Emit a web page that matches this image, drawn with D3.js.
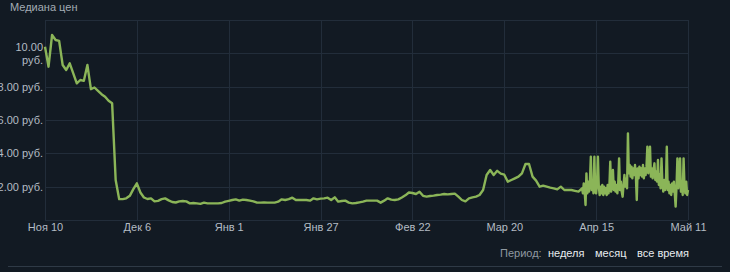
<!DOCTYPE html>
<html>
<head>
<meta charset="utf-8">
<script src="https://cdn.jsdelivr.net/npm/d3@7"></script>
<style>
  html, body { margin: 0; padding: 0; background: #121a23; }
  svg { display: block; font-family: Arial, "Liberation Sans", sans-serif; }
</style>
</head>
<body>
<script>
// daily medians from Nov 10 (one value per day)
var dailyStart = "2022-11-10";
var dailyPrices = [
  10.4, 9.2, 11.1, 10.8, 10.75, 9.3, 9.0, 9.4, 8.8, 8.2,
  8.4, 8.35, 9.3, 7.85, 7.95, 7.75, 7.55, 7.4, 7.15, 7.0,
  2.4, 1.25, 1.25, 1.3, 1.45, 1.85, 2.2, 1.65, 1.35, 1.26,
  1.3, 1.12, 1.15, 1.25, 1.3, 1.18, 1.08, 1.05, 1.12, 1.14,
  1.12, 1.0, 1.02, 1.0, 0.97, 1.04, 1.0, 1.0, 1.0, 1.0,
  1.02, 1.1, 1.15, 1.2, 1.24, 1.16, 1.22, 1.2, 1.16, 1.12,
  1.04, 1.04, 1.05, 1.04, 1.04, 1.04, 1.1, 1.24, 1.2, 1.25,
  1.34, 1.2, 1.2, 1.2, 1.2, 1.16, 1.3, 1.24, 1.28, 1.3,
  1.34, 1.2, 1.36, 1.1, 1.14, 1.16, 1.04, 1.0, 1.02, 1.06,
  1.1, 1.16, 1.16, 1.16, 1.16, 1.04, 1.16, 1.3, 1.22, 1.2,
  1.24, 1.35, 1.48, 1.65, 1.62, 1.56, 1.7, 1.45, 1.4, 1.44,
  1.46, 1.5, 1.52, 1.56, 1.54, 1.56, 1.58, 1.4, 1.2, 1.12,
  1.3, 1.36, 1.4, 1.5, 1.8, 2.7, 3.0, 2.7, 2.95, 2.78,
  2.72, 2.3, 2.4, 2.5, 2.6, 2.8, 3.36, 3.36, 2.6, 2.36,
  2.0, 2.06, 2.0, 1.94, 1.9, 1.84, 2.0, 1.8, 1.8, 1.8,
  1.75, 1.7
];

// last month, every 6 hours from Apr 11
var hourlyStart = "2023-04-11";
var hourlyStepHours = 6;
var hourlyPrices = [
  1.9, 1.6, 2.2, 1.7,
  0.9, 2.8, 1.6, 2.3,
  1.7, 2.4, 3.8, 1.8,
  2.2, 1.6, 3.8, 1.7,
  1.6, 2.2, 3.8, 2.0,
  1.5, 2.0, 1.6, 2.1,
  1.5, 2.0, 1.6, 1.9,
  1.5, 2.1, 1.6, 2.0,
  3.5, 1.7, 2.2, 3.0,
  1.8, 2.3, 1.7, 2.1,
  1.6, 2.2, 3.7, 1.8,
  2.3, 1.7, 1.4, 2.1,
  2.7, 2.0, 2.5, 1.9,
  5.2, 2.8, 3.3, 2.6,
  3.2, 2.5, 3.1, 2.7,
  3.3, 2.6, 1.2, 3.1,
  2.5, 3.2, 2.7, 3.1,
  2.6, 3.3, 2.5, 3.1,
  2.7, 3.2, 4.4, 2.8,
  3.3, 4.4, 2.6, 3.1,
  2.5, 3.0, 3.4, 2.4,
  2.9, 2.3, 3.6, 2.1,
  2.7, 1.9, 3.7, 2.2,
  1.7, 2.4, 1.8, 2.2,
  4.4, 1.8, 2.3, 1.6,
  2.1, 1.5, 2.2, 1.7,
  2.3, 1.6, 0.8, 2.0,
  3.7, 1.9, 2.5, 3.7,
  1.7, 2.3, 1.5, 3.7,
  2.1, 1.6, 2.3, 1.5,
  1.8
];

var tickDates = ["2022-11-10", "2022-12-06", "2023-01-01", "2023-01-27",
                 "2023-02-22", "2023-03-20", "2023-04-15", "2023-05-11"];
var monthNames = ["Янв", "Фев", "Мар", "Апр", "Май", "Июн",
                  "Июл", "Авг", "Сен", "Окт", "Ноя", "Дек"];
var yTicks = [2, 4, 6, 8, 10];
var periodLinks = ["неделя", "месяц", "все время"];

var W = 730, H = 272;
var parse = d3.utcParse("%Y-%m-%d");

var points = [];
var d0 = parse(dailyStart);
dailyPrices.forEach(function(v, i) {
  points.push({ date: d3.utcDay.offset(d0, i), price: v });
});
var h0 = parse(hourlyStart);
hourlyPrices.forEach(function(v, i) {
  points.push({ date: d3.utcHour.offset(h0, i * hourlyStepHours), price: v });
});

var ticks = tickDates.map(parse);

var x = d3.scaleUtc()
  .domain([ticks[0], ticks[ticks.length - 1]])
  .range([45, 688]);
var y = d3.scaleLinear()
  .domain([0, 12])
  .range([220, 20]);

var svg = d3.select("body").append("svg")
  .attr("width", W)
  .attr("height", H);

svg.append("rect")
  .attr("width", W).attr("height", H)
  .attr("fill", "#121a23");

svg.append("text")
  .attr("x", 10).attr("y", 11)
  .attr("font-size", 11)
  .attr("fill", "#a3acb4")
  .text("Медиана цен");

// grid
var grid = svg.append("g").attr("stroke", "#222d3a").attr("stroke-width", 1);
grid.selectAll("line.h")
  .data([0, 2, 4, 6, 8, 10, 12])
  .enter().append("line")
  .attr("x1", x.range()[0]).attr("x2", x.range()[1])
  .attr("y1", function(d) { return Math.round(y(d)) + 0.5; })
  .attr("y2", function(d) { return Math.round(y(d)) + 0.5; });
grid.selectAll("line.v")
  .data(ticks)
  .enter().append("line")
  .attr("y1", y.range()[1]).attr("y2", y.range()[0])
  .attr("x1", function(d) { return Math.round(x(d)) + 0.5; })
  .attr("x2", function(d) { return Math.round(x(d)) + 0.5; });

// x axis labels
var xAxis = d3.axisBottom(x)
  .tickValues(ticks)
  .tickSize(0)
  .tickPadding(3)
  .tickFormat(function(d) {
    return monthNames[d.getUTCMonth()] + " " + d.getUTCDate();
  });
var gx = svg.append("g")
  .attr("transform", "translate(0,220)")
  .call(xAxis);
gx.select(".domain").remove();
gx.selectAll("text")
  .attr("font-size", 11)
  .attr("font-family", "Arial, 'Liberation Sans', sans-serif")
  .attr("fill", "#b4bcc4");

// y axis labels
var gy = svg.append("g");
yTicks.forEach(function(v) {
  var label = v.toFixed(2);
  var t = gy.append("text")
    .attr("text-anchor", "end")
    .attr("font-size", 11)
    .attr("fill", "#b4bcc4");
  if (v >= 10) {
    t.append("tspan").attr("x", 43).attr("y", y(v) - 2.5).text(label);
    t.append("tspan").attr("x", 43).attr("y", y(v) + 10.5).text("руб.");
  } else {
    t.attr("x", 43).attr("y", y(v) + 4).text(label + " руб.");
  }
});

// price line
var line = d3.line()
  .x(function(d) { return x(d.date); })
  .y(function(d) { return y(d.price); });

svg.append("path")
  .datum(points)
  .attr("d", line)
  .attr("fill", "none")
  .attr("stroke", "#8bb558")
  .attr("stroke-width", 2.4)
  .attr("stroke-linejoin", "round");

// period selector
var period = svg.append("g").attr("font-size", 11);
period.append("text")
  .attr("x", 500).attr("y", 257)
  .attr("fill", "#8f98a0")
  .text("Период:");
var linkX = [548, 595, 637];
periodLinks.forEach(function(p, i) {
  period.append("text")
    .attr("x", linkX[i]).attr("y", 257)
    .attr("fill", "#e8ecef")
    .text(p);
});

svg.append("line")
  .attr("x1", 8).attr("x2", 722)
  .attr("y1", 266.5).attr("y2", 266.5)
  .attr("stroke", "#2f3a46");
</script>
</body>
</html>
